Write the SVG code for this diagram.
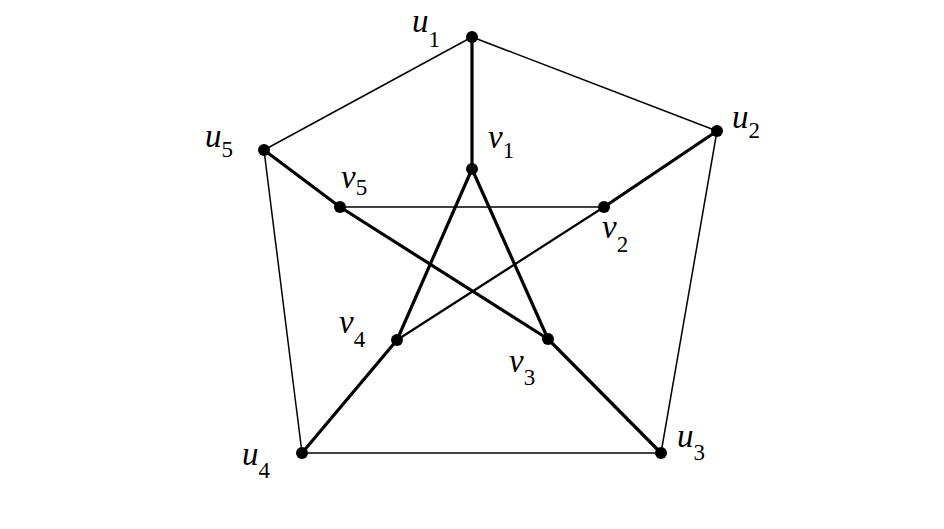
<svg xmlns="http://www.w3.org/2000/svg" width="944" height="529" viewBox="0 0 944 529">
<style>
.thin{stroke:#000;stroke-width:1.5;fill:none}
.med{stroke:#000;stroke-width:2.2;fill:none}
.thick{stroke:#000;stroke-width:3.2;fill:none}
.dot{fill:#000}
.lbl{font-family:"Liberation Serif",serif;font-style:italic;font-size:33px;fill:#000}
.sub{font-style:normal;font-size:23px}
</style>
<rect width="944" height="529" fill="#fff"/>
<g id="connectors">
<line class="thin" x1="472" y1="37" x2="717" y2="131"/>
<line class="thin" x1="717" y1="131" x2="661" y2="453"/>
<line class="thin" x1="661" y1="453" x2="302" y2="453"/>
<line class="thin" x1="302" y1="453" x2="264" y2="150"/>
<line class="thin" x1="264" y1="150" x2="472" y2="37"/>
<line class="thick" x1="472" y1="37" x2="472" y2="169"/>
<line class="thick" x1="717" y1="131" x2="604" y2="207"/>
<line class="thick" x1="661" y1="453" x2="548" y2="339"/>
<line class="thick" x1="302" y1="453" x2="397" y2="340"/>
<line class="thick" x1="264" y1="150" x2="340" y2="207"/>
<line class="thick" x1="472" y1="169" x2="548" y2="339"/>
<line class="thick" x1="472" y1="169" x2="397" y2="340"/>
<line class="thick" x1="340" y1="207" x2="548" y2="339"/>
<line class="thin" x1="340" y1="207" x2="604" y2="207"/>
<line class="med" x1="604" y1="207" x2="397" y2="340"/>
</g>
<g id="u1"><circle class="dot" cx="472" cy="37" r="6"/><text class="lbl" x="412" y="32">u<tspan class="sub" dy="15">1</tspan></text></g>
<g id="u2"><circle class="dot" cx="717" cy="131" r="6"/><text class="lbl" x="732" y="128">u<tspan class="sub" dy="10">2</tspan></text></g>
<g id="u3"><circle class="dot" cx="661" cy="453" r="6"/><text class="lbl" x="677" y="447">u<tspan class="sub" dy="13">3</tspan></text></g>
<g id="u4"><circle class="dot" cx="302" cy="453" r="6"/><text class="lbl" x="242" y="465">u<tspan class="sub" dy="13">4</tspan></text></g>
<g id="u5"><circle class="dot" cx="264" cy="150" r="6"/><text class="lbl" x="205" y="147">u<tspan class="sub" dy="10">5</tspan></text></g>
<g id="v1"><circle class="dot" cx="472" cy="169" r="6"/><text class="lbl" x="488" y="148">v<tspan class="sub" dy="10">1</tspan></text></g>
<g id="v2"><circle class="dot" cx="604" cy="207" r="6"/><text class="lbl" x="602" y="238">v<tspan class="sub" dy="14">2</tspan></text></g>
<g id="v3"><circle class="dot" cx="548" cy="339" r="6"/><text class="lbl" x="509" y="372">v<tspan class="sub" dy="13">3</tspan></text></g>
<g id="v4"><circle class="dot" cx="397" cy="340" r="6"/><text class="lbl" x="339" y="333">v<tspan class="sub" dy="14">4</tspan></text></g>
<g id="v5"><circle class="dot" cx="340" cy="207" r="6"/><text class="lbl" x="341" y="188">v<tspan class="sub" dy="7">5</tspan></text></g>
</svg>
